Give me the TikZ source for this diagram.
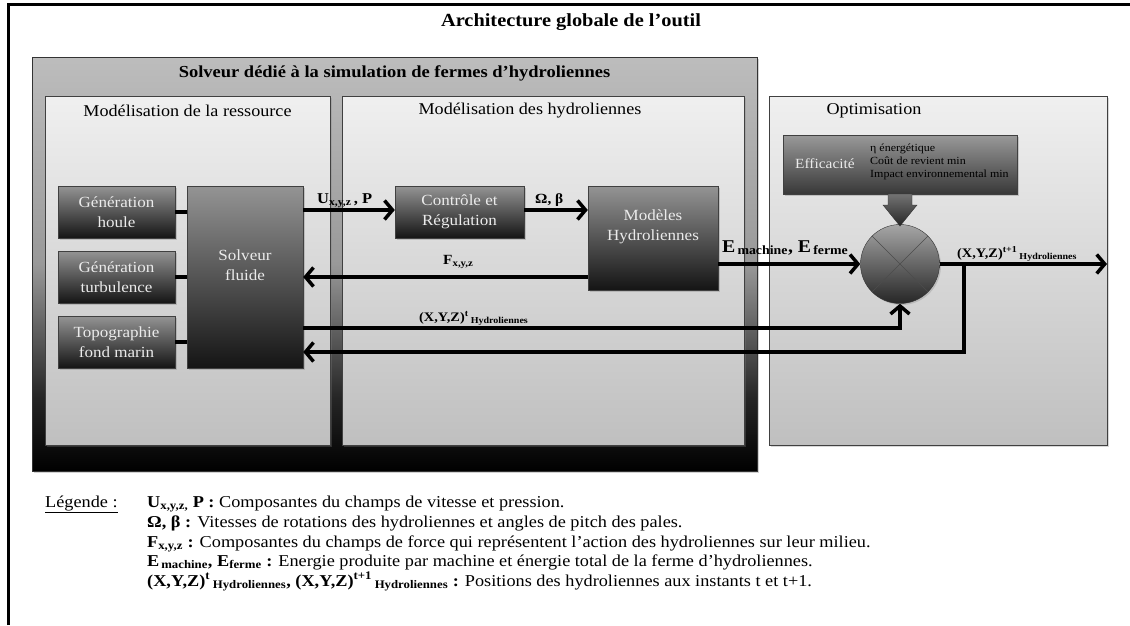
\documentclass[tikz,border=0pt]{standalone}
\usepackage{fontspec}
\setmainfont{Liberation Serif}[FakeStretch=1.1]
\usetikzlibrary{arrows.meta,shadows}

% fond du solveur : gris en haut, noir en bas
\pgfdeclareverticalshading{solveurfond}{100bp}{color(0bp)=(black); color(25bp)=(black); color(34bp)=(black!85); color(50bp)=(black!40); color(75bp)=(black!26); color(100bp)=(black!26)}

\tikzset{
  panneau/.style={draw=black!75, top color=black!6, bottom color=black!25, inner sep=0,
    drop shadow={opacity=0.3, shadow xshift=1.5pt, shadow yshift=-1.5pt}},
  bloc/.style={draw=black!75, top color=black!42, bottom color=black!92, text=black!8,
    align=center, inner sep=0, font=\fontsize{15.5}{19.5}\selectfont,
    drop shadow={opacity=0.35, shadow xshift=2pt, shadow yshift=-2pt}},
  fleche/.style={line width=3.5pt, ->},
  lien/.style={line width=3.5pt},
  etiq/.style={anchor=base west, inner sep=0, font=\bfseries\fontsize{14}{16}\selectfont},
  legende/.style={anchor=base west, inner sep=0, font=\fontsize{16.6}{20}\selectfont}
}

\begin{document}
\begin{tikzpicture}[x=1pt,y=-1pt,>/.tip={Straight Barb[length=8pt,width=19pt]}]
\useasboundingbox (0,0) rectangle (1130,625);
\fill[white] (0,0) rectangle (1130,625);
\draw[line width=3pt] (8,625) -- (8,4) -- (1130,4);
\node[font=\bfseries\fontsize{18.5}{22}\selectfont] (titre) at (571,22) {Architecture globale de l’outil};

% solveur
\node[draw=black!80, shading=solveurfond, inner sep=0, minimum width=725pt, minimum height=414pt,
  drop shadow={opacity=0.35, shadow xshift=2pt, shadow yshift=-2pt}] (solveur) at (394.5,264) {};
\node[font=\bfseries\fontsize{16.8}{20}\selectfont] (tsolveur) at (394.5,73) {Solveur dédié à la simulation de fermes d’hydroliennes};
\node[panneau, minimum width=285pt, minimum height=349pt] (ressource) at (187.5,270.5) {};
\node[panneau, minimum width=402pt, minimum height=349pt] (hydro) at (543,270.5) {};
\node[font=\fontsize{16.5}{20}\selectfont] (tressource) at (187.5,111) {Modélisation de la ressource};
\node[font=\fontsize{16.5}{20}\selectfont] (thydro) at (530,111) {Modélisation des hydroliennes};

% optimisation
\node[panneau, minimum width=338pt, minimum height=349pt] (optim) at (938,270.5) {};
\node[font=\fontsize{16.5}{20}\selectfont] (toptim) at (874,111) {Optimisation};

% blocs
\node[bloc, minimum width=117pt, minimum height=52pt] (houle) at (116.5,212) {Génération\\houle};
\node[bloc, minimum width=117pt, minimum height=52pt] (turb) at (116.5,277) {Génération\\turbulence};
\node[bloc, minimum width=117pt, minimum height=52pt] (topo) at (116.5,342) {Topographie\\fond marin};
\node[bloc, minimum width=116pt, minimum height=182pt] (fluide) at (245,277) {Solveur\\fluide\\[4pt]};
\node[bloc, minimum width=129pt, minimum height=52pt] (controle) at (459.5,212) {Contrôle et\\Régulation};
\node[bloc, minimum width=130pt, minimum height=104pt] (modeles) at (653,238) {Modèles\\Hydroliennes\\[6pt]};
\node[bloc, top color=black!40, bottom color=black!78, minimum width=234pt, minimum height=59pt] (efficacite) at (900,164.5) {};
\node[anchor=west, inner sep=0, text=black!8, font=\fontsize{14}{16}\selectfont] (teff) at (795,164) {Efficacité};
\node[anchor=west, inner sep=0, align=left, font=\fontsize{10.9}{13}\selectfont] (critere) at (870,162) {η énergétique\\Coût de revient min\\Impact environnemental min};
\node[circle, draw=black!80, top color=black!35, bottom color=black!85, minimum size=79pt, inner sep=0,
  drop shadow={opacity=0.3, shadow xshift=1.5pt, shadow yshift=-1.5pt}] (somme) at (900,264) {};
\draw[black!70] (somme.north west) -- (somme.south east) (somme.north east) -- (somme.south west);
\shade[top color=black!55, bottom color=black!85, draw=black!80] (888,194) -- (912,194) -- (912,205) -- (917,205) -- (900,226) -- (883,205) -- (888,205) -- cycle;

% liaisons
\draw[lien] (houle.east) -- (houle.east -| fluide.west);
\draw[lien] (turb.east) -- (turb.east -| fluide.west);
\draw[lien] (topo.east) -- (topo.east -| fluide.west);
\draw[fleche] ([yshift=2pt]controle.west -| fluide.east) -- ([yshift=2pt]controle.west);
\draw[fleche] ([yshift=2pt]controle.east) -- ([yshift=2pt]controle.east -| modeles.west);
\draw[fleche] ([yshift=-39pt]modeles.west) -- ([yshift=-39pt]modeles.west -| fluide.east);
\draw[fleche] (somme.west -| modeles.east) -- (somme.west);
\draw[fleche] ([yshift=-51pt]fluide.east) -| (somme.south);
\coordinate (sortie) at (1107,264);
\coordinate (branche) at (964,264);
\draw[fleche] (somme.east) -- (sortie);
\draw[fleche] (branche) |- ([yshift=-75pt]fluide.east);

% etiquettes
\node[etiq, font=\bfseries\fontsize{15}{18}\selectfont] (lu) at (317,203) {U\textsubscript{x,y,z}\,, P};
\node[etiq] (lomega) at (535,203) {Ω, β};
\node[etiq] (lf) at (443,264) {F\textsubscript{x,y,z}};
\node[etiq, font=\bfseries\fontsize{18}{20}\selectfont] (le) at (722,252) {E\textsubscript{\,machine}, E\textsubscript{\,ferme}};
\node[etiq, font=\bfseries\fontsize{13}{15}\selectfont] (lpos) at (419,321) {(X,Y,Z)\textsuperscript{t}\,\textsubscript{Hydroliennes}};
\node[etiq, font=\bfseries\fontsize{13}{15}\selectfont] (lpos1) at (957,257) {(X,Y,Z)\textsuperscript{t+1}\,\textsubscript{Hydroliennes}};

% legende
\node[legende] (leg) at (45,507) {\underline{Légende :}};
\foreach \y/\txt in {
  507/{\textbf{U\textsubscript{x,y,z,} P :} Composantes du champs de vitesse et pression.},
  527/{\textbf{Ω,\ β :} Vitesses de rotations des hydroliennes et angles de pitch des pales.},
  547/{\textbf{F\textsubscript{x,y,z} :} Composantes du champs de force qui représentent l’action des hydroliennes sur leur milieu.},
  566/{\textbf{E\textsubscript{\,machine}, E\textsubscript{ferme} :} Energie produite par machine et énergie total de la ferme d’hydroliennes.},
  586/{\textbf{(X,Y,Z)\textsuperscript{t}\,\textsubscript{Hydroliennes}, (X,Y,Z)\textsuperscript{t+1}\,\textsubscript{Hydroliennes} :} Positions des hydroliennes aux instants t et t+1.}}
  \node[legende] at (147,\y) {\txt};
\end{tikzpicture}
\end{document}
